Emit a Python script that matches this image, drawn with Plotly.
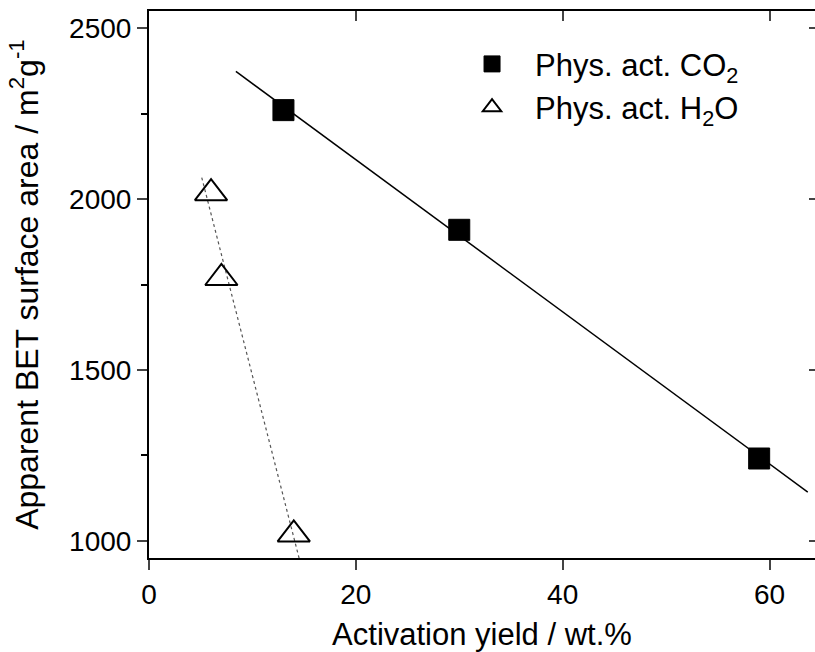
import numpy as np
import plotly.graph_objects as go

# Activation yield (wt.%) and apparent BET surface area (m2/g)
co2_yield = [13, 30, 59]
co2_area = [2260, 1910, 1241]
h2o_yield = [6, 7, 14]
h2o_area = [2017, 1769, 1019]

x_ticks = [0, 20, 40, 60]
y_ticks = [1000, 1500, 2000, 2500]

FONT = "Liberation Sans, Arial, sans-serif"

# linear fits drawn over a limited span of yield
co2_fit = np.polyfit(co2_yield, co2_area, 1)
h2o_fit = np.polyfit(h2o_yield, h2o_area, 1)
co2_fx = np.array([8.4, 63.7])
h2o_fx = np.array([5.1, 14.8])

fig = go.Figure()
fig.add_trace(go.Scatter(x=co2_fx, y=np.polyval(co2_fit, co2_fx), mode="lines",
                         line=dict(color="black", width=1.5), showlegend=False,
                         hoverinfo="skip"))
fig.add_trace(go.Scatter(x=h2o_fx, y=np.polyval(h2o_fit, h2o_fx), mode="lines",
                         line=dict(color="#555555", width=1.2, dash="dot"),
                         showlegend=False, hoverinfo="skip"))
fig.add_trace(go.Scatter(x=co2_yield, y=co2_area, mode="markers",
                         name="Phys. act. CO<sub>2</sub>",
                         marker=dict(symbol="square", size=21, color="black",
                                     line=dict(color="black", width=1))))
fig.add_trace(go.Scatter(x=h2o_yield, y=h2o_area, mode="markers",
                         name="Phys. act. H<sub>2</sub>O",
                         marker=dict(symbol="triangle-up-open", size=28, color="black",
                                     line=dict(color="black", width=2))))

# invisible trace carrying the mirrored top/right axes
fig.add_trace(go.Scatter(x=[None], y=[None], xaxis="x2", yaxis="y2",
                         showlegend=False, hoverinfo="skip"))

xr = [0, 64.4]
yr = [950, 2550]

fig.update_layout(
    width=815, height=652,
    margin=dict(l=149, r=0, t=11, b=94),
    paper_bgcolor="white", plot_bgcolor="white",
    font=dict(family=FONT, size=28, color="black"),
    showlegend=True,
    legend=dict(x=0.4505, y=0.952, xanchor="left", yanchor="top",
                bgcolor="rgba(0,0,0,0)", font=dict(size=31),
                tracegroupgap=0, itemsizing="trace", itemwidth=76),
    xaxis=dict(range=xr, tickvals=x_ticks, ticks="outside", ticklen=10,
               tickwidth=2, showline=True, linewidth=2, linecolor="black",
               showgrid=False, zeroline=False,
               title=dict(text="Activation yield / wt.%", font=dict(size=31),
                          standoff=16),
               tickfont=dict(size=28)),
    yaxis=dict(range=yr, tickvals=y_ticks, ticks="outside", ticklen=10,
               tickwidth=2, showline=True, linewidth=2, linecolor="black",
               showgrid=False, zeroline=False,
               minor=dict(tickvals=[1250, 1750, 2250], ticks="outside",
                          ticklen=6, tickwidth=2, tickcolor="black"),
               title=dict(text="Apparent BET surface area / m<sup>2</sup>g<sup>-1</sup>",
                          font=dict(size=32), standoff=21),
               tickfont=dict(size=28)),
    xaxis2=dict(range=xr, overlaying="x", side="top", tickvals=x_ticks,
                ticks="inside", ticklen=10, tickwidth=2, showline=True,
                linewidth=2, linecolor="black", showticklabels=False,
                showgrid=False, zeroline=False),
    yaxis2=dict(range=yr, overlaying="y", side="right", tickvals=y_ticks,
                ticks="inside", ticklen=6, tickwidth=2, showline=False,
                showticklabels=False, showgrid=False, zeroline=False),
)

fig.write_html("out.html")
